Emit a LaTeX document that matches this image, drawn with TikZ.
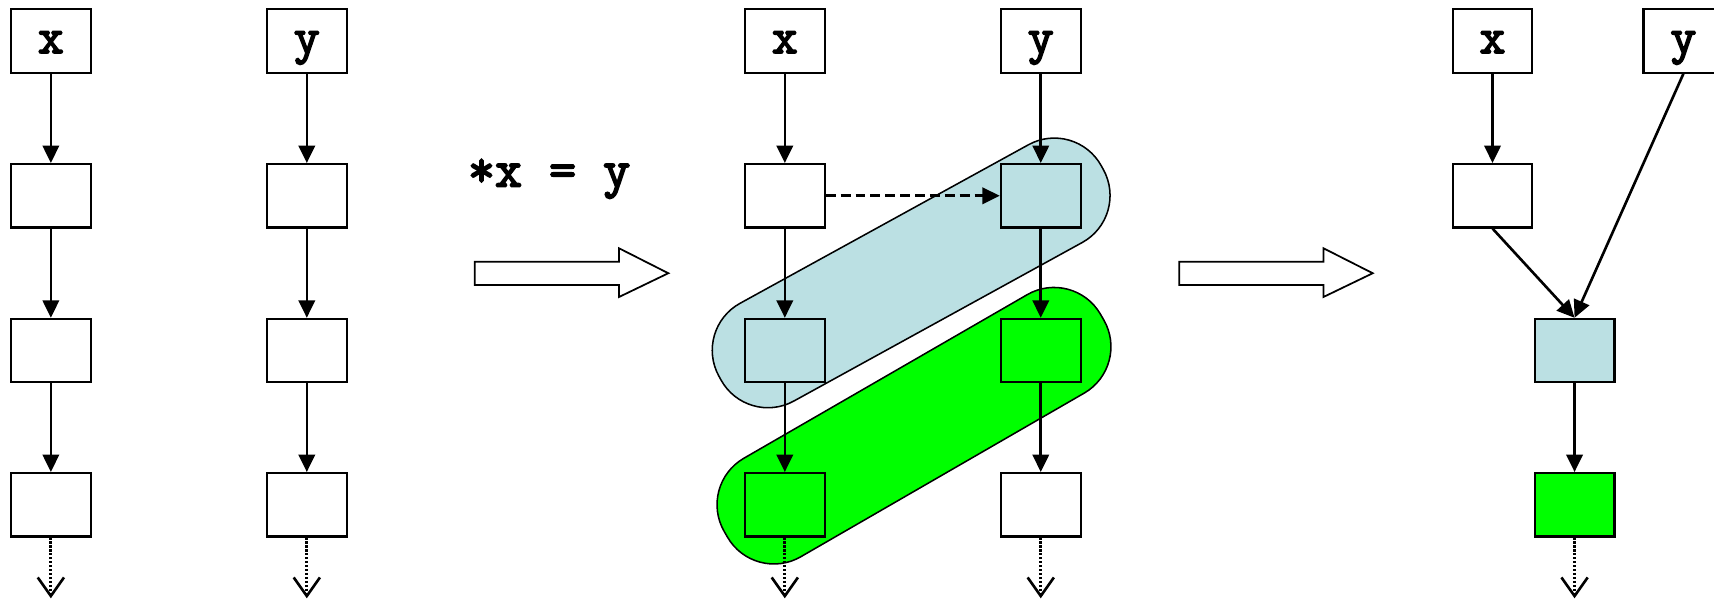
\documentclass[tikz,border=0pt]{standalone}
\usepackage{fontspec}
\newfontfamily\ttbold{Latin Modern Mono}[FakeBold=3.2]
\usetikzlibrary{arrows.meta}
\definecolor{capblue}{RGB}{187,224,227}
\definecolor{capgreen}{RGB}{0,255,0}
\begin{document}
\begin{tikzpicture}[x=0.5pt,y=-0.5pt,
  box/.style={draw,line width=0.95pt,fill=white,minimum width=36.5pt,minimum height=29pt,
    inner sep=0pt,text height=11pt,text depth=0pt,font=\fontsize{23}{26}\ttbold},
  bluebox/.style={box,fill=capblue},
  greenbox/.style={box,fill=capgreen},
  conn/.style={line width=1.2pt,-{Triangle[length=8pt,width=7.5pt]}},
  dconn/.style={conn,dash pattern=on 4.5pt off 2.3pt},
  cont/.style={line width=1.3pt,dash pattern=on 1pt off 0.8pt,
    -{Straight Barb[length=8.5pt,width=12pt,line width=1.2pt]}},
  capsule/.style={draw,line width=0.7pt,rectangle,rounded corners=24.5pt,inner sep=0pt},
  bigarrow/.style={draw,line width=0.8pt,fill=white}
]
\useasboundingbox (0,0) rectangle (1567,549.46);

% capsules
\node[capsule,fill=capblue,minimum width=199.5pt,minimum height=51pt,rotate=28.8] (capb) at (833,249.5) {};
\node[capsule,fill=capgreen,minimum width=198.6pt,minimum height=52pt,rotate=30] (capg) at (835.6,389.2) {};

% column 1
\node[box] (a1) at (46.5,37.5) {x};
\node[box] (a2) at (46.5,179) {};
\node[box] (a3) at (46.5,320.5) {};
\node[box] (a4) at (46.5,461.5) {};
\coordinate (a5) at (46.5,547);
% column 2
\node[box] (b1) at (280.5,37.5) {y};
\node[box] (b2) at (280.5,179) {};
\node[box] (b3) at (280.5,320.5) {};
\node[box] (b4) at (280.5,461.5) {};
\coordinate (b5) at (280.5,547);

\draw[conn] (a1) -- (a2);
\draw[conn] (a2) -- (a3);
\draw[conn] (a3) -- (a4);
\draw[cont] (a4) -- (a5);
\draw[conn] (b1) -- (b2);
\draw[conn] (b2) -- (b3);
\draw[conn] (b3) -- (b4);
\draw[cont] (b4) -- (b5);

% formula and big arrows
\node[anchor=base,inner sep=0pt,font=\fontsize{24}{28}\ttbold] (eq) at (502,170.6) {*x = y};
\draw[bigarrow] (434,239.2) -- (566,239.2) -- (566,227) -- (611,249.8) -- (566,271.5) -- (566,260.5) -- (434,260.5) -- cycle;
\draw[bigarrow] (1078,239.2) -- (1210,239.2) -- (1210,227) -- (1255,249.8) -- (1210,271.5) -- (1210,260.5) -- (1078,260.5) -- cycle;

% middle
\node[box] (c1) at (717.5,37.5) {x};
\node[box] (c2) at (717.5,179) {};
\node[bluebox] (c3) at (717.5,320.5) {};
\node[greenbox] (c4) at (717.5,461.5) {};
\coordinate (c5) at (717.5,547);
\node[box] (d1) at (951.5,37.5) {y};
\node[bluebox] (d2) at (951.5,179) {};
\node[greenbox] (d3) at (951.5,320.5) {};
\node[box] (d4) at (951.5,461.5) {};
\coordinate (d5) at (951.5,547);

\draw[conn] (c1) -- (c2);
\draw[conn] (c2) -- (c3);
\draw[conn] (c3) -- (c4);
\draw[cont] (c4) -- (c5);
\draw[conn] (d1) -- (d2);
\draw[conn] (d2) -- (d3);
\draw[conn] (d3) -- (d4);
\draw[cont] (d4) -- (d5);
\draw[dconn] (c2) -- (d2);

% right
\node[box] (e1) at (1364.5,37.5) {x};
\node[box] (e2) at (1364.5,179) {};
\node[box] (ey) at (1539,37.5) {y};
\node[bluebox] (f3) at (1439.5,320.5) {};
\node[greenbox] (f4) at (1439.5,461.5) {};
\coordinate (f5) at (1439.5,547);

\draw[conn] (e1) -- (e2);
\draw[conn] (e2.south) -- (f3.north);
\draw[conn] (ey.south) -- (f3.north);
\draw[conn] (f3) -- (f4);
\draw[cont] (f4) -- (f5);
\end{tikzpicture}
\end{document}
